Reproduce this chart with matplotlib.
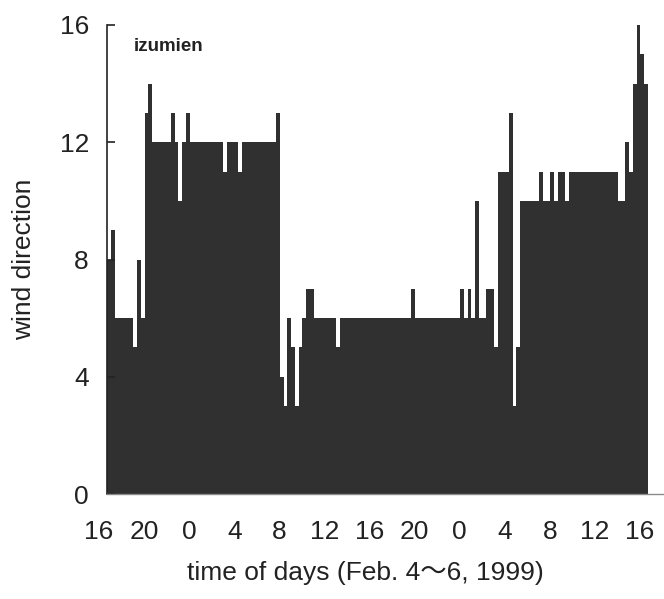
import matplotlib
matplotlib.use("Agg")
import matplotlib.pyplot as plt
import matplotlib.transforms as mtransforms
import numpy as np

plt.rcParams['font.family'] = ['Liberation Sans', 'Noto Sans CJK JP']

# wind direction every 20 minutes, 16:00 Feb 4 -> 16:00 Feb 6 (one row = 4 hours)
wind_dir = [
    8, 9, 6, 6, 6, 6, 6, 5, 8, 6, 13, 14,
    12, 12, 12, 12, 12, 13, 12, 10, 12, 13, 12, 12,
    12, 12, 12, 12, 12, 12, 12, 11, 12, 12, 12, 11,
    12, 12, 12, 12, 12, 12, 12, 12, 12, 13, 4, 3,
    6, 5, 3, 5, 6, 7, 7, 6, 6, 6, 6, 6,
    6, 5, 6, 6, 6, 6, 6, 6, 6, 6, 6, 6,
    6, 6, 6, 6, 6, 6, 6, 6, 6, 7, 6, 6,
    6, 6, 6, 6, 6, 6, 6, 6, 6, 6, 7, 6,
    7, 6, 10, 6, 6, 7, 7, 5, 11, 11, 11, 13,
    3, 5, 10, 10, 10, 10, 10, 11, 10, 10, 11, 10,
    11, 11, 10, 11, 11, 11, 11, 11, 11, 11, 11, 11,
    11, 11, 11, 11, 10, 10, 12, 11, 14, 16, 15, 14,
]
steps_per_tick = 12
hour_labels = ['16', '20', '0', '4', '8', '12', '16', '20', '0', '4', '8', '12', '16']
y_ticks = [0, 4, 8, 12, 16]

fig = plt.figure(figsize=(6.64, 5.99), dpi=100)
ax = fig.add_axes([107 / 664, 105 / 599, 556 / 664, 469 / 599])

x = np.arange(len(wind_dir))
ax.bar(x, wind_dir, width=1.0, align='edge', color='#303030', linewidth=0)

ax.set_xlim(0, 148)
ax.set_ylim(0, 16)
ax.set_yticks(y_ticks)
ax.set_xticks(np.arange(len(hour_labels)) * steps_per_tick)
ax.set_xticklabels(hour_labels)

for side in ['top', 'right']:
    ax.spines[side].set_visible(False)
ax.spines['left'].set_color('#222222')
ax.spines['left'].set_linewidth(1.2)
ax.spines['bottom'].set_color('#8a8a8a')
ax.spines['bottom'].set_linewidth(1.0)

ax.tick_params(axis='y', direction='in', length=6, width=1.2, pad=13,
               labelsize=19, colors='#222222')
ax.tick_params(axis='x', length=0, pad=19, labelsize=19, colors='#222222')

# the hour labels sit a little left of the category edges in the original
shift = mtransforms.ScaledTranslation(-8 / 100, 0, fig.dpi_scale_trans)
for lab in ax.get_xticklabels():
    lab.set_transform(lab.get_transform() + shift)

ax.set_ylabel('wind direction', fontsize=19, color='#222222')
ax.yaxis.set_label_coords(-0.128, 0.5)
ax.set_xlabel('time of days (Feb. 4\u301c6, 1999)', fontsize=19, color='#222222')
ax.xaxis.set_label_coords(0.465, -0.143)

ax.text(0.048, 0.955, 'izumien', transform=ax.transAxes, fontsize=13.5,
        fontweight='bold', va='center', ha='left', color='#222222')

fig.savefig('out.png', dpi=100)
